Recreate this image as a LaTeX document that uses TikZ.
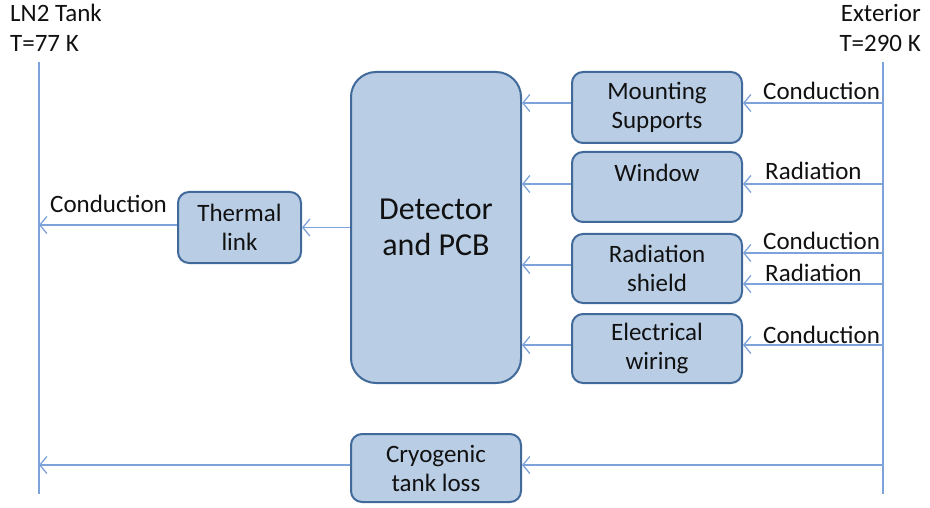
\documentclass[tikz,border=0pt]{standalone}
\usepackage{fontspec}
\setmainfont{Carlito}
\usetikzlibrary{arrows.meta}
\definecolor{boxfill}{HTML}{B9CDE5}
\definecolor{boxdraw}{HTML}{41699A}
\definecolor{linec}{HTML}{7EA3DA}
\definecolor{txt}{HTML}{111111}
\tikzset{
  boxn/.style={draw=boxdraw, fill=boxfill, line width=2pt, rounded corners=11pt,
    align=center, inner sep=0pt, text=txt, font=\fontsize{25}{29}\selectfont},
  vline/.style={draw=linec, line width=1.5pt},
  arr/.style={draw=linec, line width=1.5pt, -{Straight Barb[length=7pt,width=17pt,line width=1.3pt]}},
  lab/.style={text=txt, font=\fontsize{25}{29}\selectfont, inner sep=0pt},
}
\begin{document}
\begin{tikzpicture}[x=1pt,y=-1pt]
\useasboundingbox (0,0) rectangle (930,508);
% vertical lines
\coordinate (Lt) at (39,62); \coordinate (Lb) at (39,494);
\coordinate (Rt) at (883,62); \coordinate (Rb) at (883,494);
\draw[vline] (Lt) -- (Lb);
\draw[vline] (Rt) -- (Rb);
% headers
\node[lab, anchor=base west] (ln2) at (10,22) {LN2 Tank};
\node[lab, anchor=base west] (t77) at (10,52) {T=77 K};
\node[lab, anchor=base east] (ext) at (921,22) {Exterior};
\node[lab, anchor=base east] (t290) at (921,52) {T=290 K};
% boxes
\node[boxn, rounded corners=25pt, minimum width=170pt, minimum height=311pt,
  font=\fontsize{32}{36}\selectfont] (det) at (436,227.5) {Detector\\and PCB};
\node[boxn, minimum width=170pt, minimum height=71pt] (mount) at (657,107.5) {Mounting\\Supports};
\node[boxn, minimum width=170pt, minimum height=70pt] (win) at (657,187) {Window\\~};
\node[boxn, minimum width=170pt, minimum height=69pt] (shield) at (657,268.5) {Radiation\\shield};
\node[boxn, minimum width=170pt, minimum height=69pt] (wire) at (657,348.5) {Electrical\\wiring};
\node[boxn, minimum width=123pt, minimum height=71pt] (therm) at (239.5,227.5) {Thermal\\link};
\node[boxn, minimum width=170pt, minimum height=68pt] (cryo) at (436,468) {Cryogenic\\tank loss};
% right-side inputs
\coordinate (r1) at (883,103);
\coordinate (r2) at (883,184);
\coordinate (r3) at (883,253);
\coordinate (r4) at (883,284);
\coordinate (r5) at (883,345);
\coordinate (r6) at (883,465);
\draw[arr] (r1) -- (mount.east |- r1);
\draw[arr] (r2) -- (win.east |- r2);
\draw[arr] (r3) -- (shield.east |- r3);
\draw[arr] (r4) -- (shield.east |- r4);
\draw[arr] (r5) -- (wire.east |- r5);
\draw[arr] (r6) -- (cryo.east |- r6);
\node[lab, anchor=base west] (c1) at (763,100) {Conduction};
\node[lab, anchor=base west] (c2) at (765,180) {Radiation};
\node[lab, anchor=base west] (c3) at (763,250) {Conduction};
\node[lab, anchor=base west] (c4) at (765,281) {Radiation};
\node[lab, anchor=base west] (c5) at (763,343) {Conduction};
% into detector
\draw[arr] (mount.west |- 0,103) -- (det.east |- 0,103);
\draw[arr] (win.west |- 0,184) -- (det.east |- 0,184);
\draw[arr] (shield.west |- 0,265) -- (det.east |- 0,265);
\draw[arr] (wire.west |- 0,345) -- (det.east |- 0,345);
% to the left
\draw[arr] (det.west |- therm) -- (therm.east);
\coordinate (l1) at (39,225);
\draw[arr] (therm.west |- l1) -- (l1);
\node[lab, anchor=base west] (c6) at (50,213) {Conduction};
\coordinate (l2) at (39,465);
\draw[arr] (cryo.west |- l2) -- (l2);
\end{tikzpicture}
\end{document}
